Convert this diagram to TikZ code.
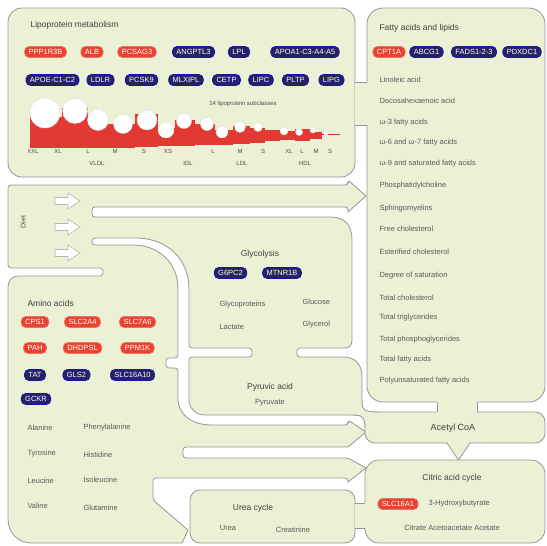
\documentclass[tikz,border=0pt]{standalone}
\usepackage{fontspec}
\setmainfont{Liberation Sans}
\definecolor{panelc}{RGB}{236,240,212}
\definecolor{rimc}{RGB}{150,150,150}
\definecolor{genered}{RGB}{232,66,48}
\definecolor{genenavy}{RGB}{38,34,100}
\definecolor{barred}{RGB}{226,38,34}
\definecolor{textc}{RGB}{90,90,90}
\begin{document}
\begin{tikzpicture}[x=1pt,y=-1pt,
  panel/.style={fill=panelc,draw=rimc,line width=0.8pt},
  rim/.style={draw=rimc,line width=0.8pt},
  gene/.style={rounded corners=4.5pt,text=white,inner xsep=4pt,inner ysep=0pt,
    minimum height=11pt,line width=0.7pt,font=\fontsize{7.5}{8}\selectfont},
  redgene/.style={gene,fill=genered,draw=genered!75!white},
  navygene/.style={gene,fill=genenavy,draw=blue!45!genenavy},
  paneltitle/.style={font=\fontsize{8.5}{10}\selectfont,text=black!75},
  listitem/.style={font=\fontsize{7.5}{9}\selectfont,text=textc,anchor=west},
  sizelbl/.style={font=\fontsize{6}{7}\selectfont,text=black!70},
  sphere/.style={fill=white,draw=black!12,line width=0.4pt},
  dietarrow/.style={fill=white,draw=rimc!70,line width=0.6pt}]

  \useasboundingbox (0,0) rectangle (547,546);

  % 脂蛋白代谢与脂肪酸两块面板
  \draw[panel,rounded corners=14pt] (8,8) rectangle (355,177);
  \draw[panel,rounded corners=16pt] (367,8) rectangle (545,402);

  % 饮食、糖酵解、氨基酸、丙酮酸:一个连通区域
  \draw[panel,rounded corners=3pt]
    (8,185) -- (348,185) -- (348,180) [sharp corners] -- (366,196) -- (348,212) [rounded corners=3pt] -- (348,207)
    -- (92,207) -- (92,217) -- (327,217) .. controls (345,217) and (352,225) .. (352,243)
    -- (352,338) .. controls (352,345) and (349,348) .. (342,348)
    -- (297,348) -- (297,357) -- (340,357) .. controls (355,357) and (362,364) .. (362,380)
    -- (362,415) -- (207,415) .. controls (196,415) and (189,408) .. (189,397)
    -- (189,357) -- (252,357) -- (252,348) -- (189,348)
    -- (189,292) .. controls (189,258) and (166,238) .. (133,238)
    -- (92,238) -- (92,245) -- (130,245) .. controls (158,245) and (178,262) .. (178,292)
    -- (178,358) -- (166,358) -- (166,368) -- (178,368)
    -- (178,395) .. controls (178,415) and (192,425) .. (215,425)
    -- (348,425) -- (348,420) [sharp corners] -- (366,432) -- (348,447) [rounded corners=3pt]
    -- (183,447) -- (183,458) -- (348,458) [sharp corners] -- (366,468) -- (348,482) [rounded corners=3pt] -- (348,478)
    -- (153,478) -- (153,500) [sharp corners] -- (188,530) -- (182,543) [rounded corners=3pt]
    -- (35,543) .. controls (18,543) and (8,533) .. (8,516)
    -- (8,290) .. controls (8,281) and (12,276) .. (21,276)
    -- (103,276) -- (103,268) -- (8,268) -- cycle;

  % 乙酰辅酶A、柠檬酸循环、尿素循环
  \draw[panel,rounded corners=10pt] (365,412) rectangle (545,443);
  \draw[panel,rounded corners=14pt] (365,460) rectangle (545,543);
  \draw[panel,rounded corners=10pt] (190,490) rectangle (355,543);

  % 面板之间的连接颈
  \fill[panelc] (354.5,82) rectangle (367.5,125);
  \draw[rim] (355,82) -- (367,82) (355,125) -- (367,125);
  \fill[panelc] (437,401) rectangle (477,413);
  \draw[rim] (437,402) -- (437,412) (477,402) -- (477,412);
  \fill[panelc] (362,402) .. controls (362,410) and (364,412) .. (380,412) -- (380,428)
    -- (365,428) .. controls (365,417) and (362,415) .. (352,415) -- (352,402) -- cycle;
  \draw[rim] (362,402) .. controls (362,410) and (364,412) .. (380,412);
  \draw[rim] (352,415) .. controls (362,415) and (365,417) .. (365,428);
  \fill[panelc] (447,441.5) -- (470,441.5) -- (458.5,460.5) -- cycle;
  \draw[rim] (447,443) -- (458.5,460) -- (470,443);
  \fill[panelc] (354.5,503) rectangle (365.5,528);
  \draw[rim] (355,503) -- (365,503) (355,528) -- (365,528);

  % 脂蛋白代谢
  \node[paneltitle,anchor=west] (lipotitle) at (27,25) {Lipoprotein metabolism};
  \node[redgene]  (ppp)   at (45.5,52) {PPP1R3B};
  \node[redgene]  (alb)   at (92,52)   {ALB};
  \node[redgene]  (pcs)   at (137,52)  {PCSAG3};
  \node[navygene] (angp)  at (193.5,52) {ANGPTL3};
  \node[navygene] (lpl)   at (239,52)  {LPL};
  \node[navygene] (apoa)  at (305,52)  {APOA1-C3-A4-A5};
  \node[navygene] (apoe)  at (52.5,80) {APOE-C1-C2};
  \node[navygene] (ldlr)  at (100.5,80) {LDLR};
  \node[navygene] (pcsk)  at (141.5,80) {PCSK9};
  \node[navygene] (mlx)   at (186,80)  {MLXIPL};
  \node[navygene] (cetp)  at (226.5,80) {CETP};
  \node[navygene] (lipc)  at (261,80)  {LIPC};
  \node[navygene] (pltp)  at (295.5,80) {PLTP};
  \node[navygene] (lipg)  at (331.5,80) {LIPG};
  \node[sizelbl] (subcl) at (243,104) {14 lipoprotein subclasses};

  % 红色柱条
  \fill[barred,opacity=0.9] (30,117) rectangle (62,148);
  \fill[barred,opacity=0.9] (62,108) rectangle (88,148);
  \fill[barred,opacity=0.9] (88,116) rectangle (108,148);
  \fill[barred,opacity=0.9] (108,124) rectangle (135,148);
  \fill[barred,opacity=0.9] (135,114) rectangle (158,147);
  \fill[barred,opacity=0.9] (158,128) rectangle (175,146);
  \fill[barred,opacity=0.9] (175,120) rectangle (195,146);
  \fill[barred,opacity=0.9] (195,124) rectangle (215,145);
  \fill[barred,opacity=0.9] (215,130) rectangle (233,145);
  \fill[barred,opacity=0.9] (233,126) rectangle (250,144);
  \fill[barred,opacity=0.9] (250,128) rectangle (265,143);
  \fill[barred,opacity=0.9] (265,130) rectangle (280,141);
  \fill[barred,opacity=0.9] (280,131) rectangle (295,140);
  \fill[barred,opacity=0.9] (295,129) rectangle (310,141);
  \fill[barred,opacity=0.9] (310,132) rectangle (322,139);
  \draw[barred,line width=1pt] (322,134) -- (340,134);

  % 颗粒(白色圆)
  \draw[sphere] (45,113) circle[radius=15];
  \draw[sphere] (75,111) circle[radius=12.5];
  \draw[sphere] (98,120) circle[radius=10.5];
  \draw[sphere] (123,124) circle[radius=9.5];
  \draw[sphere] (147,120) circle[radius=10];
  \draw[sphere] (166,130) circle[radius=8];
  \draw[sphere] (184,121) circle[radius=7.5];
  \draw[sphere] (207,124) circle[radius=6.5];
  \draw[sphere] (222,132) circle[radius=6];
  \draw[sphere] (240,127) circle[radius=5.5];
  \draw[sphere] (258,127) circle[radius=4.5];
  \draw[sphere] (284,131) circle[radius=4];
  \draw[sphere] (299,132) circle[radius=3.5];
  \draw[sphere] (313,130) circle[radius=3];
  \draw[sphere] (326,133) circle[radius=2.5];

  % 亚类标签
  \node[sizelbl] (vxxl) at (33,151)  {XXL};
  \node[sizelbl] (vxl)  at (58,151)  {XL};
  \node[sizelbl] (vl)   at (88,151)  {L};
  \node[sizelbl] (vm)   at (115,151) {M};
  \node[sizelbl] (vs)   at (144,151) {S};
  \node[sizelbl] (vxs)  at (168,151) {XS};
  \node[sizelbl] (ll)   at (213,151) {L};
  \node[sizelbl] (lm)   at (240,151) {M};
  \node[sizelbl] (ls)   at (263,151) {S};
  \node[sizelbl] (hxl)  at (289,151) {XL};
  \node[sizelbl] (hl)   at (302,151) {L};
  \node[sizelbl] (hm)   at (316,151) {M};
  \node[sizelbl] (hs)   at (330,151) {S};
  \node[sizelbl] (vldl) at (97,163)  {VLDL};
  \node[sizelbl] (idl)  at (188,163) {IDL};
  \node[sizelbl] (ldl)  at (242,163) {LDL};
  \node[sizelbl] (hdl)  at (305,163) {HDL};

  % 脂肪酸与脂类
  \node[paneltitle,anchor=west] (fattitle) at (376,28) {Fatty acids and lipids};
  \node[redgene]  (cpt)  at (389,52)   {CPT1A};
  \node[navygene] (abcg) at (426.5,52) {ABCG1};
  \node[navygene] (fads) at (474,52)   {FADS1-2-3};
  \node[navygene] (pdx)  at (522,52)   {PDXDC1};
  \node[listitem] (fa1)  at (376,80)  {Linoleic acid};
  \node[listitem] (fa2)  at (376,101) {Docosahexaenoic acid};
  \node[listitem] (fa3)  at (376,123) {ω-3 fatty acids};
  \node[listitem] (fa4)  at (376,143) {ω-6 and ω-7 fatty acids};
  \node[listitem] (fa5)  at (376,164) {ω-9 and saturated fatty acids};
  \node[listitem] (fa6)  at (376,186) {Phosphatidylcholine};
  \node[listitem] (fa7)  at (376,209) {Sphingomyelins};
  \node[listitem] (fa8)  at (376,229) {Free cholesterol};
  \node[listitem] (fa9)  at (376,252) {Esterified cholesterol};
  \node[listitem] (fa10) at (376,276) {Degree of saturation};
  \node[listitem] (fa11) at (376,298) {Total cholesterol};
  \node[listitem] (fa12) at (376,318) {Total triglycerides};
  \node[listitem] (fa13) at (376,340) {Total phosphoglycerides};
  \node[listitem] (fa14) at (376,360) {Total fatty acids};
  \node[listitem] (fa15) at (376,381) {Polyunsaturated fatty acids};

  % 饮食
  \node[sizelbl,rotate=90,font=\fontsize{7}{8}\selectfont] (diet) at (23,222) {Diet};
  \draw[dietarrow] (55,197.5) -- (68,197.5) -- (68,193) -- (80,201) -- (68,209) -- (68,204.5) -- (55,204.5) -- cycle;
  \draw[dietarrow] (55,223.5) -- (68,223.5) -- (68,219) -- (80,227) -- (68,235) -- (68,230.5) -- (55,230.5) -- cycle;
  \draw[dietarrow] (55,249.5) -- (68,249.5) -- (68,245) -- (80,253) -- (68,261) -- (68,256.5) -- (55,256.5) -- cycle;

  % 糖酵解
  \node[paneltitle] (glytitle) at (260,254) {Glycolysis};
  \node[navygene] (g6pc) at (230.5,273) {G6PC2};
  \node[navygene] (mtnr) at (282,273)   {MTNR1B};
  \node[listitem] (gly1) at (216,305) {Glycoproteins};
  \node[listitem] (gly2) at (216,327) {Lactate};
  \node[listitem] (gly3) at (299,302) {Glucose};
  \node[listitem] (gly4) at (299,325) {Glycerol};

  % 氨基酸
  \node[paneltitle,anchor=west] (aatitle) at (24,303) {Amino acids};
  \node[redgene]  (cps)   at (35,322)    {CPS1};
  \node[redgene]  (slc2)  at (82.5,322)  {SLC2A4};
  \node[redgene]  (slc7)  at (137.5,322) {SLC7A6};
  \node[redgene]  (pah)   at (35,348)    {PAH};
  \node[redgene]  (dhd)   at (82.5,348)  {DHDPSL};
  \node[redgene]  (ppm)   at (137.5,348) {PPM1K};
  \node[navygene] (tat)   at (35,375)    {TAT};
  \node[navygene] (gls)   at (76.5,375)  {GLS2};
  \node[navygene] (slc16) at (132.5,375) {SLC16A10};
  \node[navygene] (gckr)  at (36,399)    {GCKR};
  \node[listitem] (aa1) at (24,428) {Alanine};
  \node[listitem] (aa2) at (80,428) {Phenylalanine};
  \node[listitem] (aa3) at (24,454) {Tyrosine};
  \node[listitem] (aa4) at (80,455) {Histidine};
  \node[listitem] (aa5) at (24,481) {Leucine};
  \node[listitem] (aa6) at (80,480) {Isoleucine};
  \node[listitem] (aa7) at (24,506) {Valine};
  \node[listitem] (aa8) at (80,508) {Glutamine};

  % 丙酮酸、乙酰辅酶A、柠檬酸循环、尿素循环
  \node[paneltitle] (pyrtitle) at (270,387) {Pyruvic acid};
  \node[listitem,anchor=center] (pyr) at (270,403) {Pyruvate};
  \node[paneltitle,font=\fontsize{9}{10}\selectfont] (acetyl) at (453,428) {Acetyl CoA};
  \node[paneltitle] (cittitle) at (452,478) {Citric acid cycle};
  \node[redgene] (slc16a1) at (398,504) {SLC16A1};
  \node[listitem] (hb) at (425,504) {3-Hydroxybutyrate};
  \node[listitem,anchor=center] (cit) at (452,528) {Citrate Acetoacetate Acetate};
  \node[paneltitle] (ureatitle) at (253,508) {Urea cycle};
  \node[listitem,anchor=center] (urea) at (228,528) {Urea};
  \node[listitem,anchor=center] (creat) at (293,530) {Creatinine};

\end{tikzpicture}
\end{document}
